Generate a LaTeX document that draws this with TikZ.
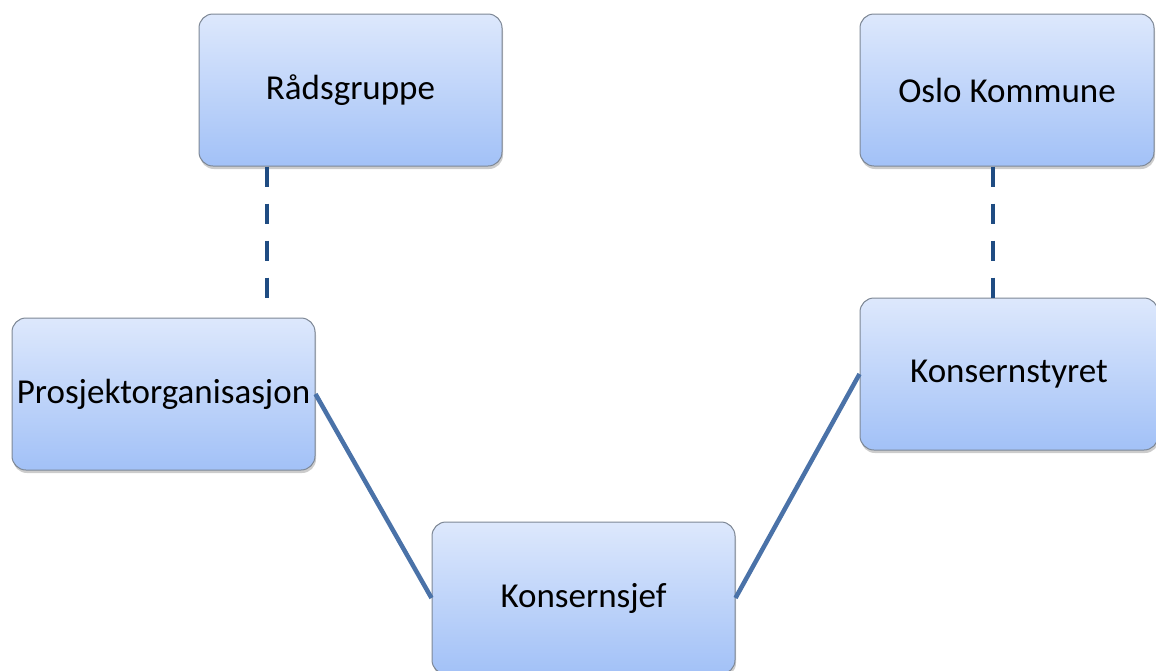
\documentclass[tikz,border=0pt]{standalone}
\usepackage{fontspec}
\setmainfont{Carlito}
\usetikzlibrary{positioning,shadows}
\definecolor{boxtop}{HTML}{DDE8FC}
\definecolor{boxbot}{HTML}{A2C1F7}
\definecolor{boxline}{HTML}{7D8795}
\definecolor{solidline}{HTML}{4A72A8}
\definecolor{dashline}{HTML}{1F4C82}

\begin{document}
\begin{tikzpicture}[x=1pt, y=-1pt,
    org/.style = {rectangle, rounded corners=14pt, draw=boxline, line width=1pt,
        top color=boxtop, bottom color=boxbot, minimum width=303pt, minimum height=152pt,
        font=\fontsize{35}{40}\selectfont,
        drop shadow={shadow xshift=1pt, shadow yshift=-3pt, opacity=0.4}},
    link/.style = {solidline, line width=4.5pt},
    dlink/.style = {dashline, line width=4.5pt, dash pattern=on 20pt off 17pt}]
    \useasboundingbox (0,0) rectangle (1156,670);
    \node[org] (raad) at (350.5,90) {Rådsgruppe};
    \node[org, minimum width=294pt] (oslo) at (1007,90) {Oslo Kommune};
    \node[org] (prosj) at (163.5,394) {Prosjektorganisasjon};
    \node[org, minimum width=298pt] (styret) at (1009,374) {Konsernstyret};
    \node[org] (sjef) at (583.5,598) {Konsernsjef};
    \coordinate (raadfoot) at (267,298);
    % dashed ties
    \draw[dlink] (raad.south -| raadfoot) -- (raadfoot);
    \draw[dlink] ([xshift=-14pt]oslo.south) -- ([xshift=-16pt]styret.north);
    % solid lines
    \draw[link] (prosj.east) -- (sjef.west);
    \draw[link] (sjef.east) -- (styret.west);
\end{tikzpicture}
\end{document}
